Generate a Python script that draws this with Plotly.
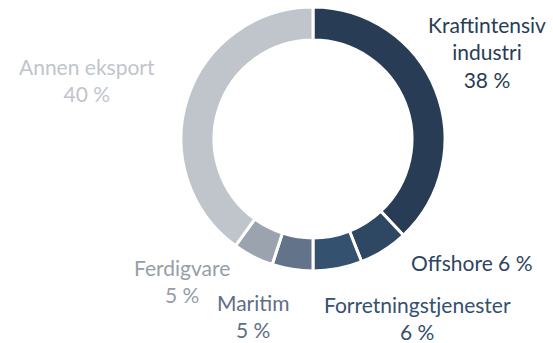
import plotly.graph_objects as go

# Export shares by sector (percent)
sectors = ["Kraftintensiv industri", "Offshore", "Forretningstjenester",
           "Maritim", "Ferdigvare", "Annen eksport"]
shares = [38, 6, 6, 5, 5, 40]
colors = ["#283d55", "#2e4763", "#34516f", "#637389", "#9ba3ae", "#c0c5cc"]

# Label text for each sector, with the percentage taken from the data
label_lines = {
    "Kraftintensiv industri": "Kraftintensiv<br>industri<br>{} %",
    "Offshore": "Offshore {} %",
    "Forretningstjenester": "Forretningstjenester<br>{} %",
    "Maritim": "Maritim<br>{} %",
    "Ferdigvare": "Ferdigvare<br>{} %",
    "Annen eksport": "Annen eksport<br>{} %",
}
# Label anchor points in pixels (x from left, y from top)
label_pos = {
    "Kraftintensiv industri": (487, 52),
    "Offshore": (472, 262),
    "Forretningstjenester": (417, 318),
    "Maritim": (253, 316),
    "Ferdigvare": (182, 281),
    "Annen eksport": (87, 80),
}
text_colors = ["#283d55", "#2e4560", "#34506e", "#5f6e84", "#959ea9", "#c0c5cc"]

W, H = 553, 343
cx, cy, r = 313, 139, 132

fig = go.Figure(go.Pie(
    labels=sectors,
    values=shares,
    hole=0.75,
    sort=False,
    direction="clockwise",
    rotation=0,
    marker=dict(colors=colors, line=dict(color="white", width=3)),
    textinfo="none",
    showlegend=False,
    domain=dict(x=[(cx - r) / W, (cx + r) / W],
                y=[1 - (cy + r) / H, 1 - (cy - r) / H]),
))

for name, val, tc in zip(sectors, shares, text_colors):
    px, py = label_pos[name]
    fig.add_annotation(
        x=px / W, y=1 - py / H, xref="paper", yref="paper",
        text=label_lines[name].format(val),
        showarrow=False, xanchor="center", yanchor="middle",
        font=dict(family="Lato", size=21, color=tc),
        align="center",
    )

fig.update_layout(
    width=W, height=H,
    margin=dict(l=0, r=0, t=0, b=0),
    paper_bgcolor="white",
    plot_bgcolor="white",
)

fig.write_html("out.html")
